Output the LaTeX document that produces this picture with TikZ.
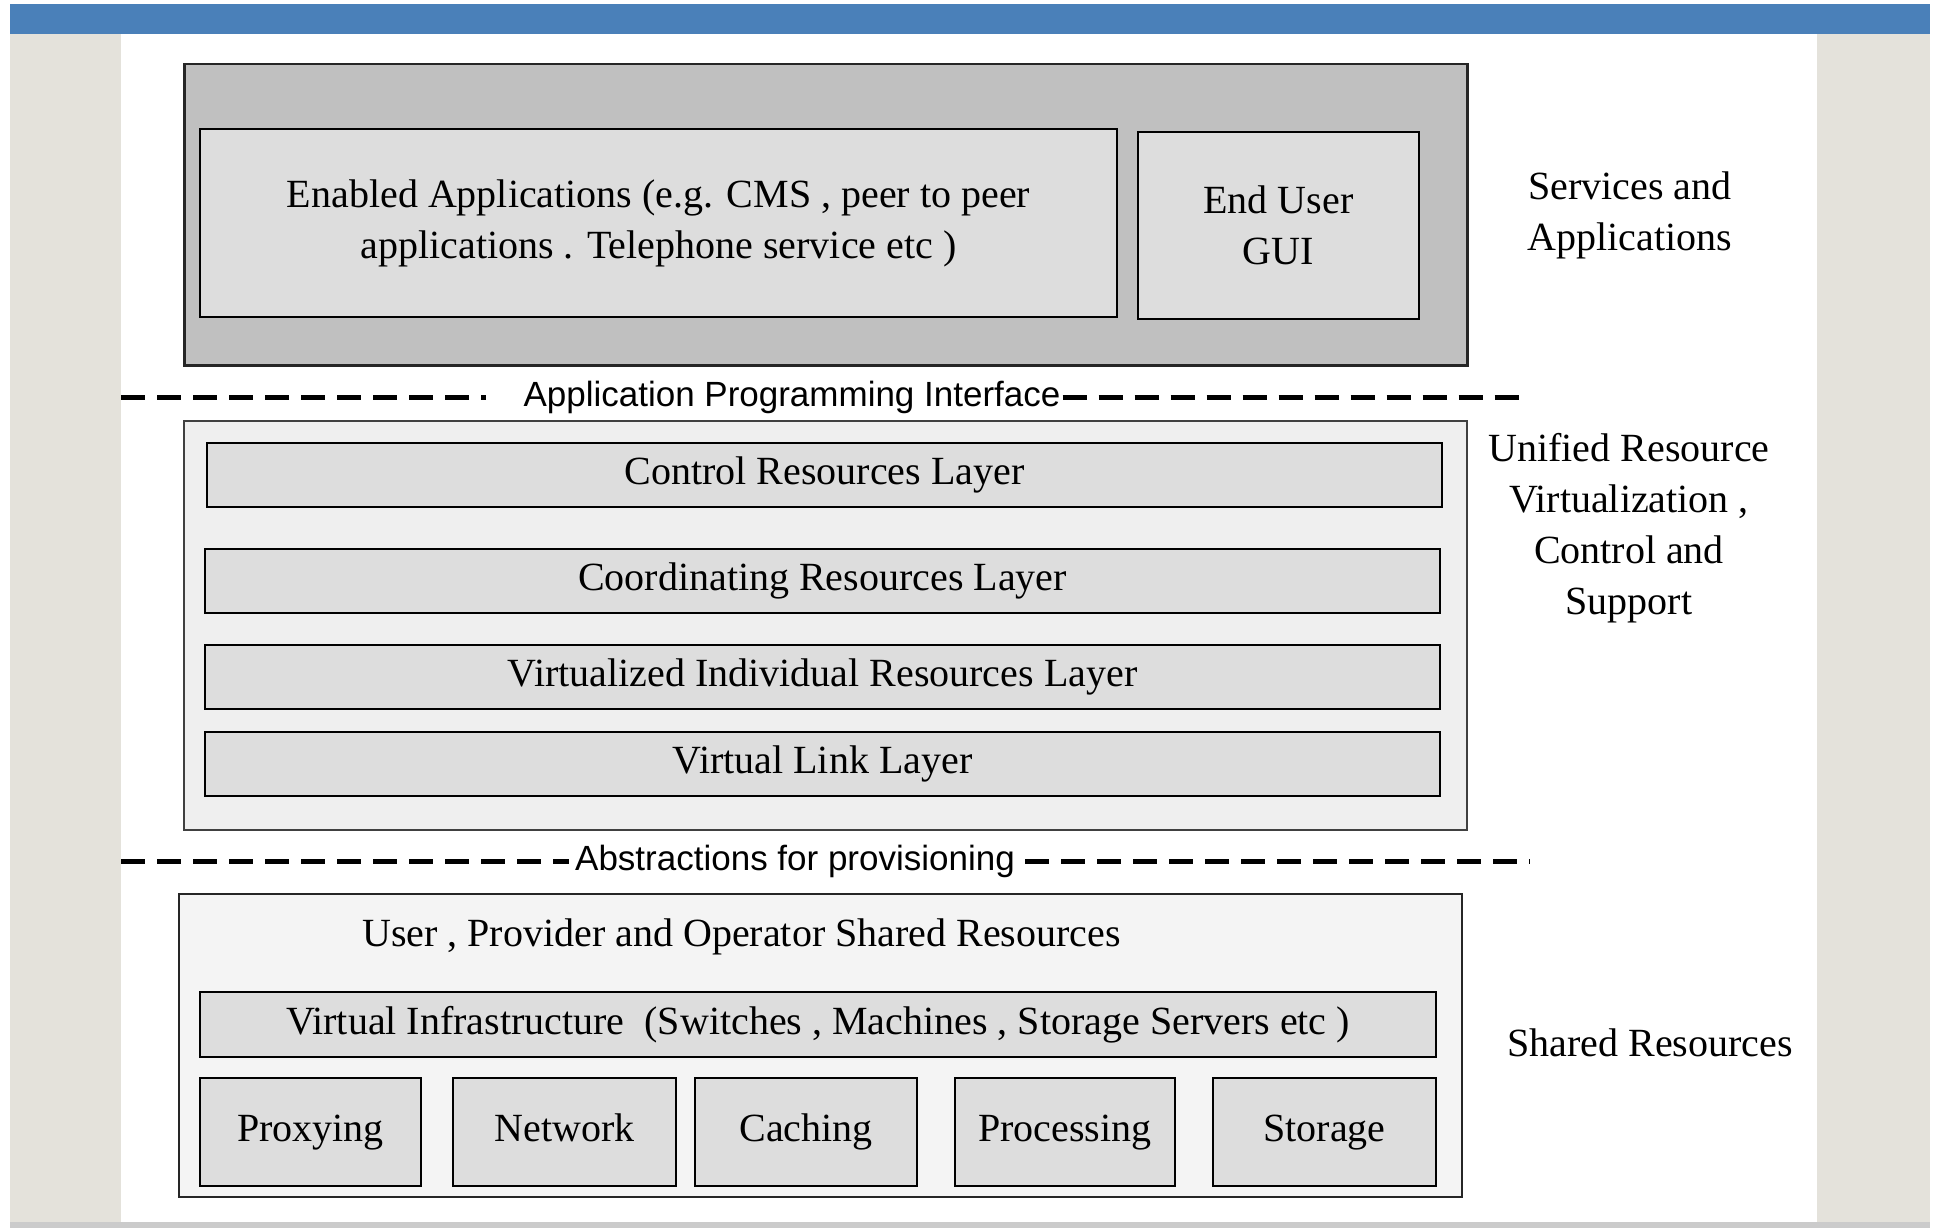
\documentclass[tikz,border=0pt]{standalone}
\usepackage{fontspec}
\setmainfont{Liberation Serif}
\setsansfont{Liberation Sans}
\usepackage{xcolor}
\usetikzlibrary{positioning}

\definecolor{barblue}{HTML}{4A80B9}
\definecolor{panelgray}{HTML}{E4E2DB}
\definecolor{footgray}{HTML}{CBCBCB}
\definecolor{topgray}{HTML}{C0C0C0}
\definecolor{boxgray}{HTML}{DDDDDD}
\definecolor{palegray}{HTML}{EFEFEF}

\newcommand\bigserif{\fontsize{40}{51}\selectfont}
\newcommand\apifont{\sffamily\fontsize{35}{42}\selectfont}

\begin{document}
\begin{tikzpicture}[x=1pt,y=-1pt]
\tikzset{every node/.style={inner sep=0pt}}
\tikzset{outerbox/.style={draw=black!85, line width=2.5pt, anchor=north west}}
\tikzset{innerbox/.style={draw=black, line width=2pt, fill=boxgray, anchor=north west, align=center, font=\bigserif}}
\tikzset{resbox/.style={innerbox, minimum height=108pt, text height=28pt, text depth=9pt}}
\tikzset{sidelabel/.style={align=center, font=\bigserif}}
\tikzset{apilabel/.style={font=\apifont}}
\tikzset{dashline/.style={line width=5pt, dash pattern=on 24pt off 12pt}}

\useasboundingbox (0,0) rectangle (1935,1228);
\fill[white] (0,0) rectangle (1935,1228);
\fill[barblue] (10,4) rectangle (1930,34);
\fill[panelgray] (10,34) rectangle (121,1222);
\fill[panelgray] (1817,34) rectangle (1930,1222);
\fill[footgray] (10,1222) rectangle (1930,1228);

\node[outerbox, fill=topgray, minimum width=1283pt, minimum height=301pt] (services) at (183,63) {};
\node[innerbox, minimum width=917pt, minimum height=188pt] (apps) at (199,128)
  {Enabled Applications  (e.g. CMS , peer to peer\\applications . Telephone service etc  )};
\node[innerbox, minimum width=281pt, minimum height=187pt] (gui) at (1137,131) {End  User\\GUI};
\node[sidelabel] (servlabel) at (1630,215) {Services and\\Applications};

\coordinate (apiL) at (121,397);
\coordinate (apiR) at (1522,397);
\node[apilabel] (api) at (792,397) {Application Programming Interface};
\draw[dashline] (apiL) -- ([xshift=-37pt]api.west);
\draw[dashline] ([xshift=2pt]api.east) -- (apiR);

\node[outerbox, draw=black!75, line width=2pt, fill=palegray, minimum width=1283pt, minimum height=409pt] (unified) at (183,420) {};
\node[innerbox, minimum width=1235pt, minimum height=64pt] (ctrl) at (206,442) {Control Resources Layer};
\node[innerbox, minimum width=1235pt, minimum height=64pt] (coord) at (204,548) {Coordinating Resources Layer};
\node[innerbox, minimum width=1235pt, minimum height=64pt] (indiv) at (204,644) {Virtualized Individual Resources Layer};
\node[innerbox, minimum width=1235pt, minimum height=64pt] (vlink) at (204,731) {Virtual Link Layer};
\node[sidelabel] (unilabel) at (1629,528) {Unified Resource\\Virtualization ,\\Control and\\Support};

\coordinate (absL) at (121,861);
\coordinate (absR) at (1530,861);
\node[apilabel] (abs) at (795,861) {Abstractions for provisioning};
\draw[dashline] (absL) -- ([xshift=-6pt]abs.west);
\draw[dashline] ([xshift=10pt]abs.east) -- (absR);

\node[outerbox, draw=black!85, line width=2pt, fill=palegray!70!white, minimum width=1283pt, minimum height=303pt] (shared) at (178,893) {};
\node[font=\bigserif, anchor=west] (owners) at (362,937) {User , Provider and Operator Shared Resources};
\node[innerbox, minimum width=1236pt, minimum height=65pt] (infra) at (199,991)
  {Virtual Infrastructure  \ (Switches , Machines , Storage Servers etc  )};
\node[resbox, minimum width=221pt] (proxy) at (199,1077) {Proxying};
\node[resbox, minimum width=223pt] (net) at (452,1077) {Network};
\node[resbox, minimum width=222pt] (cache) at (694,1077) {Caching};
\node[resbox, minimum width=220pt] (proc) at (954,1077) {Processing};
\node[resbox, minimum width=223pt] (store) at (1212,1077) {Storage};
\node[sidelabel] (sharedlabel) at (1650,1043) {Shared Resources};

\end{tikzpicture}
\end{document}
